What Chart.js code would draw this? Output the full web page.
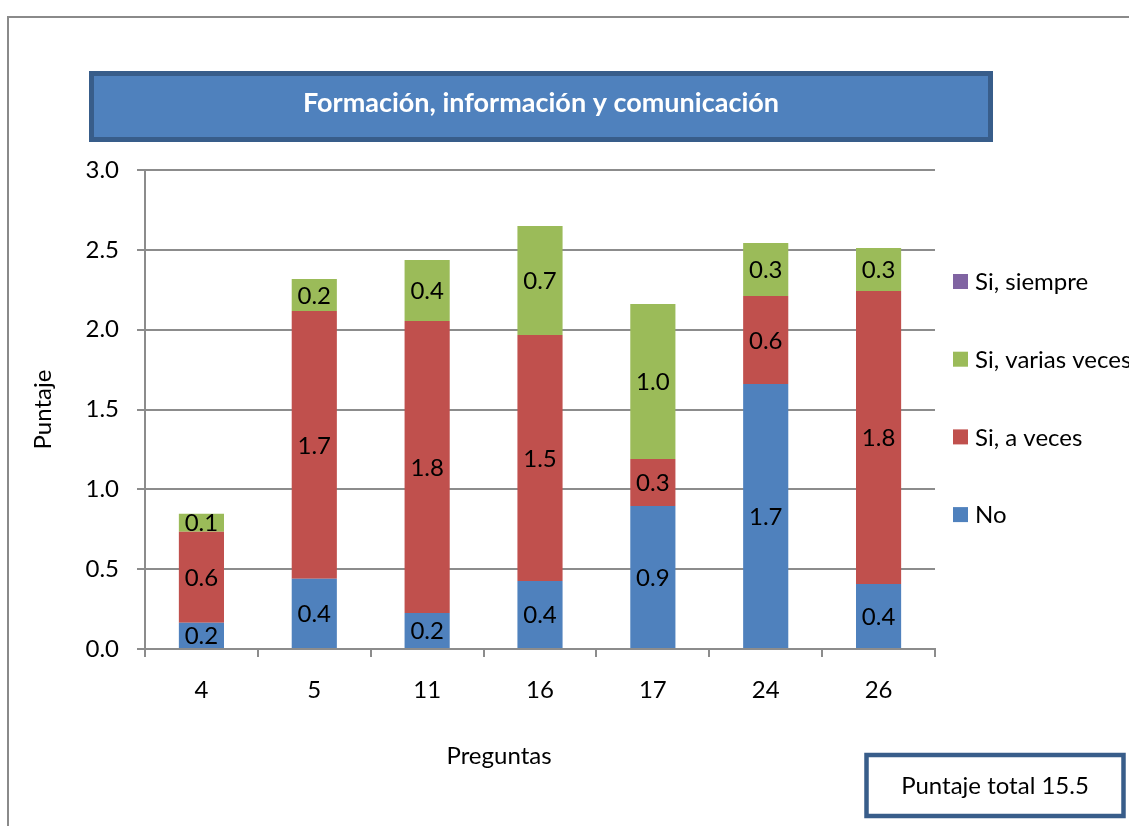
<!DOCTYPE html>
<html>
<head>
<meta charset="utf-8">
<script src="https://cdn.jsdelivr.net/npm/chart.js@4.4.1/dist/chart.umd.min.js"></script>
<style>
  html, body { margin: 0; padding: 0; background: #fff; }
  #wrap { width: 1129px; height: 826px; position: relative; }
</style>
</head>
<body>
<div id="wrap"><canvas id="c" width="1129" height="826"></canvas></div>
<script>
const categories = ['4', '5', '11', '16', '17', '24', '26'];
const seriesNames = ['No', 'Si, a veces', 'Si, varias veces', 'Si, siempre'];
const noValues = [0.165, 0.44, 0.225, 0.426, 0.896, 1.66, 0.407];
const aVecesValues = [0.57, 1.677, 1.829, 1.541, 0.294, 0.551, 1.835];
const variasVecesValues = [0.112, 0.2, 0.382, 0.683, 0.971, 0.332, 0.269];
const siempreValues = [0, 0, 0, 0, 0, 0, 0];
const yTicks = [0, 0.5, 1.0, 1.5, 2.0, 2.5, 3.0];
const chartTitle = 'Formación, información y comunicación';
const xTitle = 'Preguntas';
const yTitle = 'Puntaje';
const totalText = 'Puntaje total 15.5';
const colors = ['#4F81BD', '#C0504D', '#9BBB59', '#8064A2'];

const FONT = 'Lato, "Open Sans", sans-serif';
const GRID = '#8c8c8c';
const FS = 24;

const decorPlugin = {
  id: 'decor',
  beforeDraw(chart) {
    const ctx = chart.ctx;
    ctx.save();
    ctx.fillStyle = '#fff';
    ctx.fillRect(0, 0, chart.width, chart.height);
    // outer frame
    ctx.strokeStyle = '#8a8a8a';
    ctx.lineWidth = 2;
    ctx.strokeRect(8, 17, 1200, 900);
    // title box
    ctx.fillStyle = '#4F81BD';
    ctx.fillRect(91.5, 73.5, 899, 66);
    ctx.strokeStyle = '#385D8A';
    ctx.lineWidth = 5;
    ctx.strokeRect(91.5, 73.5, 899, 66);
    ctx.fillStyle = '#ffffff';
    ctx.font = 'bold 27px ' + FONT;
    ctx.textAlign = 'center';
    ctx.textBaseline = 'middle';
    ctx.fillText(chartTitle, 541, 103);
    ctx.restore();
  },
  afterDraw(chart) {
    const ctx = chart.ctx;
    ctx.save();
    // data labels
    ctx.font = FS + 'px ' + FONT;
    ctx.fillStyle = '#000';
    ctx.textAlign = 'center';
    ctx.textBaseline = 'middle';
    chart.data.datasets.forEach((ds, di) => {
      const meta = chart.getDatasetMeta(di);
      meta.data.forEach((el, i) => {
        const v = ds.data[i];
        if (!v) return;
        const p = el.getProps(['x', 'y', 'base'], true);
        ctx.fillText(v.toFixed(1), p.x, (p.y + p.base) / 2 + 1);
      });
    });
    // x axis title
    ctx.fillText(xTitle, 499, 756);
    // legend (reverse order)
    const n = chart.data.datasets.length;
    ctx.textAlign = 'left';
    for (let k = 0; k < n; k++) {
      const di = n - 1 - k;
      const ds = chart.data.datasets[di];
      const cy = 281.5 + k * 77.7;
      ctx.fillStyle = ds.backgroundColor;
      ctx.fillRect(953, cy - 7.5, 15, 15);
      ctx.fillStyle = '#000';
      ctx.fillText(ds.label, 975, cy + 1);
    }
    // total box
    ctx.fillStyle = '#fff';
    ctx.fillRect(866.5, 755, 257, 61);
    ctx.strokeStyle = '#385D8A';
    ctx.lineWidth = 4.5;
    ctx.strokeRect(866.5, 755, 257, 61);
    ctx.fillStyle = '#000';
    ctx.textAlign = 'center';
    ctx.fillText(totalText, 995, 786);
    ctx.restore();
  }
};

const datasetValues = [noValues, aVecesValues, variasVecesValues, siempreValues];

new Chart(document.getElementById('c'), {
  type: 'bar',
  data: {
    labels: categories,
    datasets: seriesNames.map((name, i) => ({
      label: name,
      data: datasetValues[i],
      backgroundColor: colors[i],
      borderWidth: 0,
      barPercentage: 0.8,
      categoryPercentage: 0.5
    }))
  },
  options: {
    responsive: false,
    animation: false,
    events: [],
    layout: { padding: { top: 170, right: 194, left: 0, bottom: 0 } },
    plugins: { legend: { display: false }, tooltip: { enabled: false }, title: { display: false } },
    scales: {
      x: {
        stacked: true,
        grid: { display: true, drawOnChartArea: false, offset: true, color: GRID, lineWidth: 2, tickLength: 8 },
        border: { color: GRID, width: 2 },
        ticks: { color: '#000', font: { family: FONT, size: FS }, padding: 19, maxRotation: 0 },
        afterFit(s) { s.height = 177; }
      },
      y: {
        stacked: true,
        min: 0,
        max: 3,
        afterBuildTicks(s) { s.ticks = yTicks.map(v => ({ value: v })); },
        grid: { color: GRID, lineWidth: 2, tickLength: 8 },
        border: { color: GRID, width: 2 },
        ticks: { color: '#000', font: { family: FONT, size: FS }, padding: 18, callback: v => Number(v).toFixed(1) },
        title: { display: true, text: yTitle, color: '#000', font: { family: FONT, size: FS }, padding: { top: 29, bottom: 0 } },
        afterFit(s) { s.width = 145; }
      }
    }
  },
  plugins: [decorPlugin]
});
</script>
</body>
</html>
